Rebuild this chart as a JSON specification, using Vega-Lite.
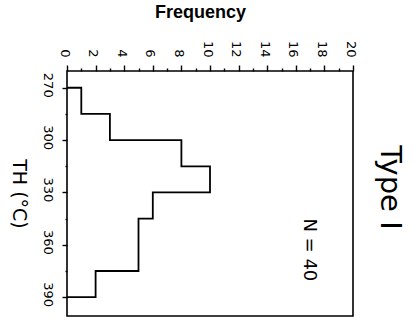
{
  "$schema": "https://vega.github.io/schema/vega-lite/v6.json",
  "width": 286,
  "height": 245,
  "autosize": {"type": "none"},
  "padding": {"left": 67, "top": 71, "right": 66, "bottom": 6},
  "background": "white",
  "config": {
    "view": {"stroke": "black", "strokeWidth": 1.6},
    "font": "DejaVu Sans"
  },
  "title": {
    "text": "Type I",
    "orient": "right",
    "anchor": "middle",
    "font": "DejaVu Sans",
    "fontSize": 29,
    "fontWeight": "normal",
    "color": "black",
    "offset": 19,
    "dx": -6
  },
  "encoding": {
    "x": {
      "field": "Frequency",
      "type": "quantitative",
      "scale": {"domain": [0, 20], "nice": false, "zero": false},
      "axis": {
        "orient": "top",
        "values": [0,1,2,3,4,5,6,7,8,9,10,11,12,13,14,15,16,17,18,19,20],
        "labelExpr": "datum.value % 2 === 0 ? datum.label : ''",
        "tickSize": {"condition": {"test": "datum.value % 2 === 1", "value": 3}, "value": 6},
        "tickColor": "black",
        "tickWidth": 1.4,
        "domain": false,
        "grid": false,
        "labelAngle": 90,
        "labelAlign": "right",
        "labelBaseline": "middle",
        "labelOffset": -3,
        "labelPadding": 8,
        "labelFont": "DejaVu Sans",
        "labelFontSize": 13,
        "labelColor": "black",
        "title": "Frequency",
        "titleFont": "Liberation Sans",
        "titleFontSize": 18,
        "titleFontWeight": "bold",
        "titleColor": "black",
        "titleX": 133,
        "titleY": -54,
        "titleAngle": 0,
        "titleAlign": "center",
        "titleBaseline": "alphabetic"
      }
    },
    "y": {
      "field": "TH",
      "type": "quantitative",
      "scale": {"domain": [260.4, 400.8], "nice": false, "zero": false, "reverse": true},
      "axis": {
        "values": [270, 285, 300, 315, 330, 345, 360, 375, 390],
        "labelExpr": "datum.value % 30 === 0 ? datum.label : ''",
        "tickSize": {"condition": {"test": "datum.value % 30 !== 0", "value": 2}, "value": 5},
        "tickColor": "black",
        "tickWidth": 1.4,
        "domain": false,
        "grid": false,
        "labelAngle": 90,
        "labelAlign": "center",
        "labelBaseline": "top",
        "labelOffset": -3,
        "labelPadding": 9,
        "labelFont": "DejaVu Sans",
        "labelFontSize": 13,
        "labelColor": "black",
        "title": "TH (°C)",
        "titleFont": "DejaVu Sans",
        "titleFontSize": 19,
        "titleFontWeight": "normal",
        "titleColor": "black",
        "titleAngle": 90,
        "titleX": -49,
        "titleY": 122.5,
        "titleAlign": "center",
        "titleBaseline": "middle"
      }
    }
  },
  "layer": [
    {
      "data": {
        "values": [
          {"step": 0, "TH": 270, "Frequency": 0},
          {"step": 1, "TH": 270, "Frequency": 1},
          {"step": 2, "TH": 285, "Frequency": 3},
          {"step": 3, "TH": 300, "Frequency": 8},
          {"step": 4, "TH": 315, "Frequency": 10},
          {"step": 5, "TH": 330, "Frequency": 6},
          {"step": 6, "TH": 345, "Frequency": 5},
          {"step": 7, "TH": 360, "Frequency": 5},
          {"step": 8, "TH": 375, "Frequency": 2},
          {"step": 9, "TH": 390, "Frequency": 0}
        ]
      },
      "mark": {"type": "line", "interpolate": "step-before", "color": "black", "strokeWidth": 1.8},
      "encoding": {
        "order": {"field": "step", "type": "quantitative"}
      }
    },
    {
      "data": {"values": [{"label": "N = 40", "Frequency": 16.94, "TH": 362.9}]},
      "mark": {"type": "text", "angle": 90, "fontSize": 18, "font": "DejaVu Sans", "align": "center", "baseline": "middle", "color": "black"},
      "encoding": {"text": {"field": "label"}}
    }
  ]
}
